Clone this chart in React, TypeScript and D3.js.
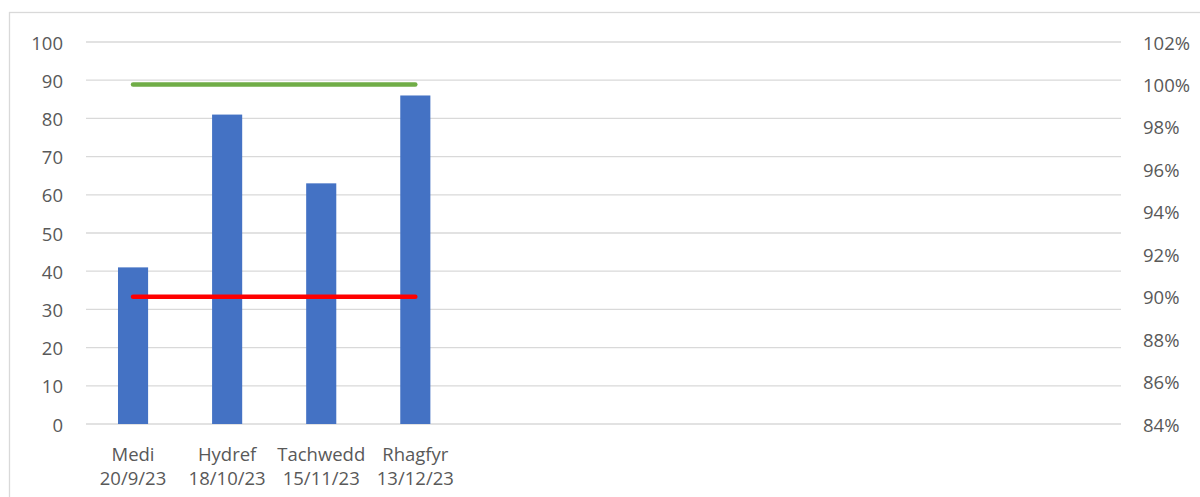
import React from "react";
import * as d3 from "d3";

const monthLabels = ["Medi", "Hydref", "Tachwedd", "Rhagfyr", "", "", "", "", "", "", ""];
const dateLabels = ["20/9/23", "18/10/23", "15/11/23", "13/12/23", "", "", "", "", "", "", ""];
const barValues: (number | null)[] = [41, 81, 63, 86, null, null, null, null, null, null, null];
const greenTarget: (number | null)[] = [1.0, 1.0, 1.0, 1.0, null, null, null, null, null, null, null];
const redTarget: (number | null)[] = [0.9, 0.9, 0.9, 0.9, null, null, null, null, null, null, null];
const leftTicks = [0, 10, 20, 30, 40, 50, 60, 70, 80, 90, 100];
const rightTicks = [0.84, 0.86, 0.88, 0.9, 0.92, 0.94, 0.96, 0.98, 1.0, 1.02];

const W = 1200;
const H = 497;
const FONT = "'Open Sans', sans-serif";
const FS = 18.5;

export default function App() {
  const idx = monthLabels.map((_, i) => i);
  const x = d3.scaleBand<number>().domain(idx).range([78, 1113]).paddingInner(0).paddingOuter(0);
  const yL = d3.scaleLinear().domain([0, 100]).range([416, 34]);
  const yR = d3.scaleLinear().domain([0.84, 1.02]).range([416, 34]);
  const barW = x.bandwidth() * 0.32;
  const cx = (i: number) => (x(i) as number) + x.bandwidth() / 2;

  const lineGen = d3
    .line<number | null>()
    .defined((d) => d !== null)
    .x((_, i) => cx(i))
    .y((d) => yR(d as number));

  const pctFmt = d3.format(".0%");

  return (
    <svg width={W} height={H} style={{ display: "block", position: "absolute", left: 0, top: 0 }}>
      <g transform="translate(8,8)">
        <rect x={1.5} y={4.5} width={1300} height={600} fill="#fff" stroke="#d9d9d9" strokeWidth={1.3} />
        {leftTicks.map((t) => (
          <line key={"g" + t} x1={78} x2={1113} y1={yL(t)} y2={yL(t)} stroke="#d9d9d9" strokeWidth={1.3} />
        ))}
        {leftTicks.map((t) => (
          <text
            key={"l" + t}
            x={55}
            y={yL(t)}
            textAnchor="end"
            dominantBaseline="central"
            fontFamily={FONT}
            fontSize={FS}
            fill="#595959"
          >
            {t}
          </text>
        ))}
        {rightTicks.map((t) => (
          <text
            key={"r" + t}
            x={1135}
            y={yR(t)}
            textAnchor="start"
            dominantBaseline="central"
            fontFamily={FONT}
            fontSize={FS}
            fill="#595959"
          >
            {pctFmt(t)}
          </text>
        ))}
        {barValues.map((v, i) =>
          v === null ? null : (
            <rect key={"b" + i} x={cx(i) - barW / 2} y={yL(v)} width={barW} height={yL(0) - yL(v)} fill="#4472c4" />
          )
        )}
        <path d={lineGen(redTarget) || ""} fill="none" stroke="#ff0000" strokeWidth={4.5} strokeLinecap="round" />
        <path d={lineGen(greenTarget) || ""} fill="none" stroke="#70ad47" strokeWidth={4.5} strokeLinecap="round" />
        {monthLabels.map((m, i) =>
          m ? (
            <text key={"m" + i} x={cx(i)} y={445} textAnchor="middle" dominantBaseline="central" fontFamily={FONT} fontSize={FS} fill="#595959">
              {m}
            </text>
          ) : null
        )}
        {dateLabels.map((dl, i) =>
          dl ? (
            <text key={"d" + i} x={cx(i)} y={469} textAnchor="middle" dominantBaseline="central" fontFamily={FONT} fontSize={FS} fill="#595959">
              {dl}
            </text>
          ) : null
        )}
      </g>
    </svg>
  );
}
